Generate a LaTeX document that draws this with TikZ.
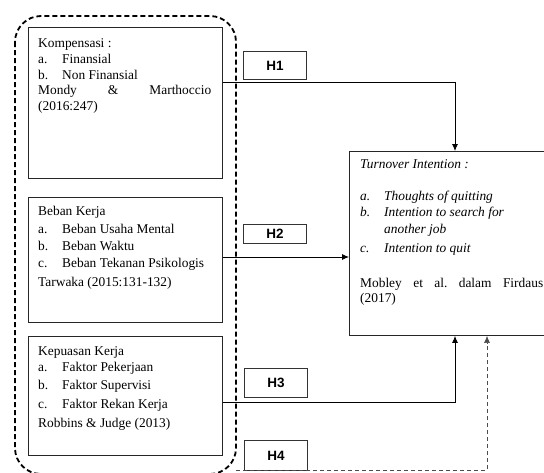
\documentclass[tikz,border=0pt]{standalone}
\usepackage{fontspec}
\setmainfont{Liberation Serif}
\newfontfamily\hfont{Liberation Sans}
\usetikzlibrary{arrows.meta}

\tikzset{
  varbox/.style={draw=black!85, line width=0.9pt, minimum width=194pt, inner sep=0pt, anchor=north west},
  hbox/.style={draw=black!80, line width=0.9pt, minimum width=63pt, inner sep=0pt, anchor=north west, font=\hfont\bfseries\fontsize{13.5}{15}\selectfont},
  txt/.style={anchor=base west, inner sep=0pt},
  arr/.style={line width=0.8pt, -{Latex[length=7pt,width=6pt]}},
  arrdash/.style={line width=0.6pt, black!70, dash pattern=on 4pt off 3pt, -{Latex[length=7pt,width=6pt]}},
}

\begin{document}
\begin{tikzpicture}[x=1pt,y=-1pt]
\useasboundingbox (0,0) rectangle (544,472);
\fontsize{13.4}{16}\selectfont

% kelompok variabel X
\draw[line width=1.8pt, dash pattern=on 5pt off 3pt, rounded corners=26pt] (15,16) rectangle (236,474);
\coordinate (grp) at (236,470);

% kotak variabel
\node[varbox, minimum height=151pt] (komp) at (28,27) {};
\node[varbox, minimum height=125pt] (beban) at (28,197) {};
\node[varbox, minimum height=119pt] (puas) at (28,336) {};
\node[draw=black!85, line width=0.9pt, minimum width=200pt, minimum height=184pt, inner sep=0pt, anchor=north west] (ti) at (349,151) {};

% Kompensasi
\node[txt] (k0) at (38,47) {Kompensasi :};
\node[txt] (k1) at (38,63) {a.};
\node[txt] (k1t) at (62,63) {Finansial};
\node[txt] (k2) at (38,79) {b.};
\node[txt] (k2t) at (62,79) {Non Finansial};
\node[txt] (k3) at (38,94) {\makebox[173pt][s]{Mondy\hfill\&\hfill Marthoccio}};
\node[txt] (k4) at (38,110) {(2016:247)};

% Beban Kerja
\node[txt] (b0) at (38,215) {Beban Kerja};
\node[txt] (b1) at (38,233) {a.};
\node[txt] (b1t) at (62,233) {Beban Usaha Mental};
\node[txt] (b2) at (38,250) {b.};
\node[txt] (b2t) at (62,250) {Beban Waktu};
\node[txt] (b3) at (38,267) {c.};
\node[txt] (b3t) at (62,267) {Beban Tekanan Psikologis};
\node[txt] (b4) at (38,286) {Tarwaka (2015:131-132)};

% Kepuasan Kerja
\node[txt] (p0) at (38,355) {Kepuasan Kerja};
\node[txt] (p1) at (38,371) {a.};
\node[txt] (p1t) at (62,371) {Faktor Pekerjaan};
\node[txt] (p2) at (38,389) {b.};
\node[txt] (p2t) at (62,389) {Faktor Supervisi};
\node[txt] (p3) at (38,408) {c.};
\node[txt] (p3t) at (62,408) {Faktor Rekan Kerja};
\node[txt] (p4) at (38,427) {Robbins \& Judge (2013)};

% Turnover Intention
\node[txt] (t0) at (360,168) {\itshape Turnover Intention :};
\node[txt] (t1) at (360,200) {\itshape a.};
\node[txt] (t1t) at (384,200) {\itshape Thoughts of quitting};
\node[txt] (t2) at (360,216) {\itshape b.};
\node[txt] (t2t) at (384,216) {\itshape Intention to search for};
\node[txt] (t2u) at (384,233) {\itshape another job};
\node[txt] (t3) at (360,252) {\itshape c.};
\node[txt] (t3t) at (384,252) {\itshape Intention to quit};
\node[txt] (t4) at (360,287) {\makebox[183pt][s]{Mobley\hfill et\hfill al.\hfill dalam\hfill Firdaus}};
\node[txt] (t5) at (360,302) {(2017)};

% hipotesis
\node[hbox, minimum height=28pt] (h1) at (243,51) {H1};
\node[hbox, minimum height=19pt] (h2) at (243,224) {H2};
\node[hbox, minimum height=29pt] (h3) at (244,368) {H3};
\node[hbox, minimum height=30pt] (h4) at (244,440) {H4};

% garis hubungan
\coordinate (c1) at (455,82);
\coordinate (c2) at (349,257);
\coordinate (c3) at (455,402);
\coordinate (c4) at (487,470);
\draw[arr] (komp.east |- c1) -- (c1) -- (ti.north -| c1);
\draw[arr] (beban.east |- c2) -- (ti.west |- c2);
\draw[arr] (puas.east |- c3) -- (c3) -- (ti.south -| c3);
\draw[arrdash] (grp) -- (c4) -- (ti.south -| c4);
\end{tikzpicture}
\end{document}
